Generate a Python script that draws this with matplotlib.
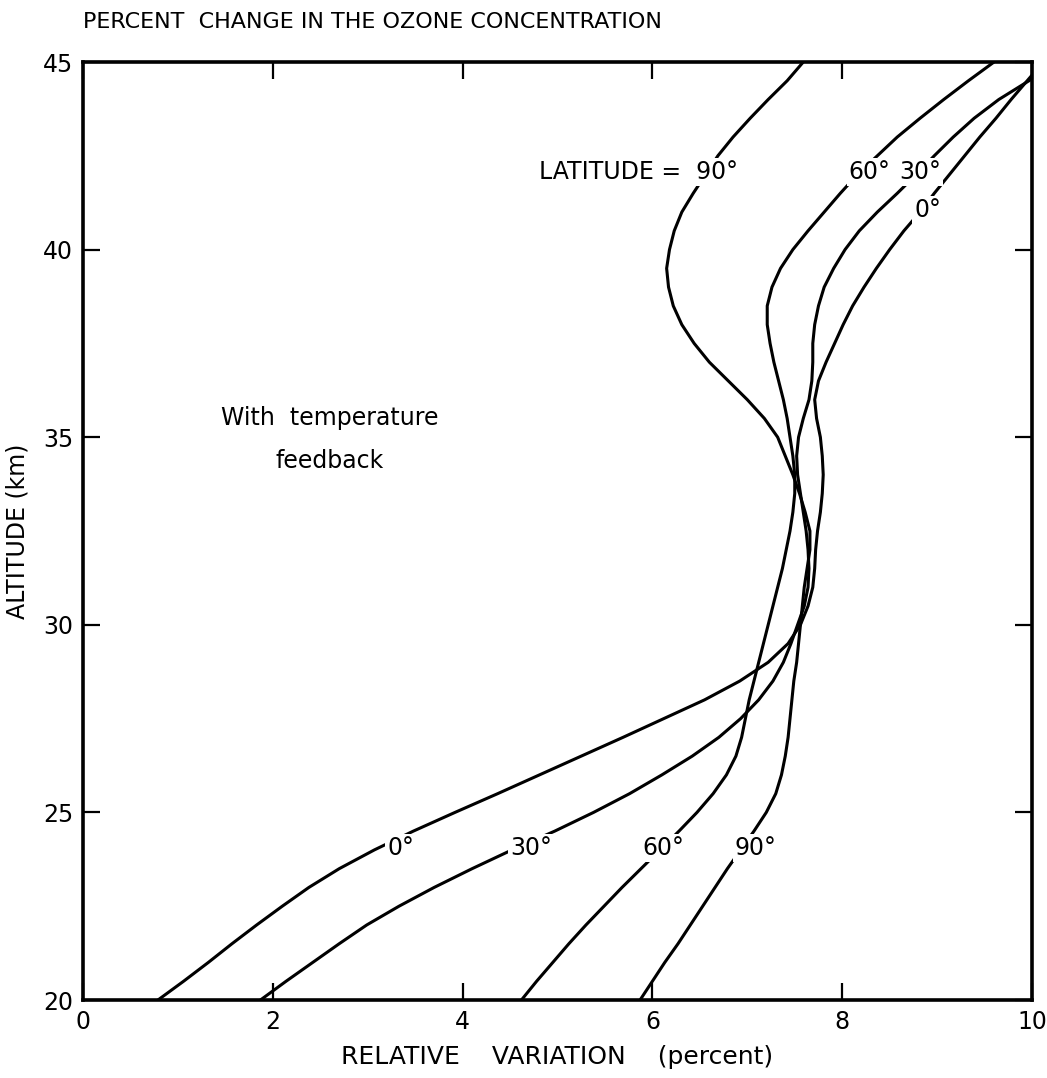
import matplotlib
matplotlib.use("Agg")
import matplotlib.pyplot as plt

plt.rcParams['font.family'] = ['DejaVu Sans']

# ---- data (altitude km, relative variation %) ----
alt_lat0 = [20.0, 20.5, 21.0, 21.5, 22.0, 22.5, 23.0, 23.5, 24.0, 24.5, 25.0, 25.5,
            26.0, 26.5, 27.0, 27.5, 28.0, 28.5, 29.0, 29.5, 30.0, 30.5, 31.0, 31.5,
            32.0, 32.5, 33.0, 33.5, 34.0, 34.5, 35.0, 35.5, 36.0, 36.5, 37.0, 37.5,
            38.0, 38.5, 39.0, 39.5, 40.0, 40.5, 41.0, 41.5, 42.0, 42.5, 43.0, 43.5,
            44.0, 44.65]
var_lat0 = [0.79, 1.06, 1.32, 1.57, 1.83, 2.10, 2.38, 2.70, 3.07, 3.48, 3.92, 4.37,
            4.81, 5.25, 5.69, 6.12, 6.55, 6.92, 7.22, 7.43, 7.56, 7.64, 7.69, 7.71,
            7.72, 7.74, 7.77, 7.79, 7.80, 7.79, 7.77, 7.73, 7.71, 7.75, 7.83, 7.92,
            8.01, 8.11, 8.23, 8.36, 8.50, 8.65, 8.82, 8.97, 9.13, 9.29, 9.45, 9.62,
            9.78, 10.0]

alt_lat30 = [20.0, 20.5, 21.0, 21.5, 22.0, 22.5, 23.0, 23.5, 24.0, 24.5, 25.0, 25.5,
             26.0, 26.5, 27.0, 27.5, 28.0, 28.5, 29.0, 29.5, 30.0, 30.5, 31.0, 31.5,
             32.0, 32.5, 33.0, 33.5, 34.0, 34.5, 35.0, 35.5, 36.0, 36.5, 37.0, 37.5,
             38.0, 38.5, 39.0, 39.5, 40.0, 40.5, 41.0, 41.5, 42.0, 42.5, 43.0, 43.5,
             44.0, 44.55]
var_lat30 = [1.87, 2.14, 2.42, 2.70, 2.99, 3.33, 3.70, 4.10, 4.52, 4.97, 5.38, 5.76,
             6.10, 6.42, 6.70, 6.93, 7.12, 7.27, 7.38, 7.46, 7.53, 7.60, 7.64, 7.65,
             7.64, 7.62, 7.59, 7.56, 7.53, 7.52, 7.54, 7.59, 7.65, 7.68, 7.69, 7.69,
             7.71, 7.75, 7.81, 7.91, 8.03, 8.18, 8.37, 8.58, 8.78, 8.97, 9.17, 9.39,
             9.65, 10.0]

alt_lat60 = [20.0, 20.5, 21.0, 21.5, 22.0, 22.5, 23.0, 23.5, 24.0, 24.5, 25.0, 25.5,
             26.0, 26.5, 27.0, 27.5, 28.0, 28.5, 29.0, 29.5, 30.0, 30.5, 31.0, 31.5,
             32.0, 32.5, 33.0, 33.5, 34.0, 34.5, 35.0, 35.5, 36.0, 36.5, 37.0, 37.5,
             38.0, 38.5, 39.0, 39.5, 40.0, 40.5, 41.0, 41.5, 42.0, 42.5, 43.0, 43.5,
             44.0, 44.5, 45.0]
var_lat60 = [4.62, 4.78, 4.95, 5.12, 5.30, 5.49, 5.68, 5.88, 6.08, 6.28, 6.47, 6.64,
             6.78, 6.88, 6.94, 6.98, 7.02, 7.07, 7.12, 7.17, 7.22, 7.27, 7.32, 7.37,
             7.41, 7.45, 7.48, 7.50, 7.50, 7.48, 7.45, 7.42, 7.38, 7.33, 7.28, 7.24,
             7.21, 7.21, 7.26, 7.35, 7.48, 7.64, 7.81, 7.98, 8.16, 8.37, 8.58, 8.82,
             9.07, 9.33, 9.60]

alt_lat90 = [20.0, 20.5, 21.0, 21.5, 22.0, 22.5, 23.0, 23.5, 24.0, 24.5, 25.0, 25.5,
             26.0, 26.5, 27.0, 27.5, 28.0, 28.5, 29.0, 29.5, 30.0, 30.5, 31.0, 31.5,
             32.0, 32.5, 33.0, 33.5, 34.0, 34.5, 35.0, 35.5, 36.0, 36.5, 37.0, 37.5,
             38.0, 38.5, 39.0, 39.5, 40.0, 40.5, 41.0, 41.5, 42.0, 42.5, 43.0, 43.5,
             44.0, 44.5, 45.0]
var_lat90 = [5.87, 6.00, 6.13, 6.27, 6.40, 6.53, 6.66, 6.79, 6.93, 7.07, 7.20, 7.30,
             7.36, 7.40, 7.43, 7.45, 7.47, 7.49, 7.52, 7.54, 7.56, 7.58, 7.60, 7.63,
             7.66, 7.66, 7.61, 7.55, 7.48, 7.40, 7.32, 7.18, 7.00, 6.80, 6.60, 6.44,
             6.31, 6.22, 6.17, 6.15, 6.18, 6.23, 6.31, 6.43, 6.56, 6.69, 6.85, 7.03,
             7.22, 7.42, 7.59]

x_ticks = [0, 2, 4, 6, 8, 10]
y_ticks = [20, 25, 30, 35, 40, 45]

# curve labels: (text, x, altitude)
curve_labels = [("0°", 3.35, 24.05), ("30°", 4.72, 24.05), ("60°", 6.12, 24.05),
                ("90°", 7.09, 24.05), ("60°", 8.29, 42.07), ("30°", 8.82, 42.07),
                ("0°", 8.9, 41.05)]

fig = plt.figure(figsize=(10.47, 10.78), dpi=100)
ax = fig.add_axes([83 / 1047, 78 / 1078, 949 / 1047, 938 / 1078])

for a, v in [(alt_lat0, var_lat0), (alt_lat30, var_lat30),
             (alt_lat60, var_lat60), (alt_lat90, var_lat90)]:
    ax.plot(v, a, color='black', lw=2.2, solid_capstyle='round',
            solid_joinstyle='round', zorder=2)

ax.set_xlim(0, 10)
ax.set_ylim(20, 45)
ax.set_xticks(x_ticks)
ax.set_yticks(y_ticks)
ax.tick_params(direction='in', length=12, width=1.6, top=True, right=True,
               labelsize=17, pad=7, colors='black')
for s in ax.spines.values():
    s.set_linewidth(2.6)

bb = dict(facecolor='white', edgecolor='none', pad=1.5)
for t, x, y in curve_labels:
    ax.text(x, y, t, ha='center', va='center', fontsize=17, bbox=bb, zorder=3)

ax.text(5.85, 42.07, "LATITUDE =  90°", ha='center', va='center', fontsize=17,
        bbox=bb, zorder=3)
ax.text(2.6, 35.5, "With  temperature", ha='center', va='center', fontsize=17)
ax.text(2.6, 34.36, "feedback", ha='center', va='center', fontsize=17)

ax.set_xlabel("RELATIVE    VARIATION    (percent)", fontsize=18, labelpad=8)
ax.set_ylabel("ALTITUDE (km)", fontsize=17, labelpad=10)

fig.text(83 / 1047, 1 - 22 / 1078, "PERCENT  CHANGE IN THE OZONE CONCENTRATION",
         ha='left', va='center', fontsize=16)

fig.savefig("out.png", dpi=100, facecolor='white')
